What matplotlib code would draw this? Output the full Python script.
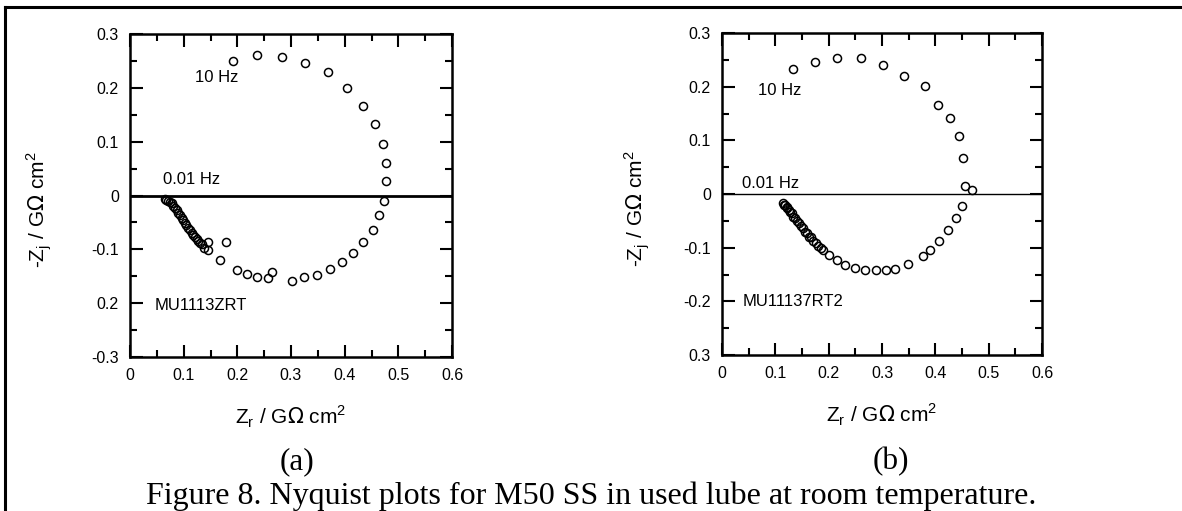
import matplotlib
matplotlib.use("Agg")
import matplotlib.pyplot as plt
from matplotlib.ticker import MultipleLocator, FixedLocator, FixedFormatter
from matplotlib.lines import Line2D

# panel (a): MU1113ZRT
za_re = [0.1925, 0.236, 0.2826, 0.326, 0.3695, 0.4037, 0.4348, 0.4565, 0.4708, 0.477,
         0.477, 0.474, 0.4646, 0.452, 0.4348, 0.416, 0.3944, 0.3727, 0.348, 0.3242,
         0.301, 0.264, 0.2577, 0.237, 0.2174, 0.200, 0.1677, 0.1789, 0.146, 0.146,
         0.1379, 0.1335, 0.1273, 0.121, 0.1149, 0.1087, 0.1025, 0.0963, 0.090, 0.0838,
         0.0776, 0.0714, 0.0652, 0.068, 0.074, 0.080, 0.087, 0.093, 0.099, 0.105,
         0.112, 0.118, 0.124, 0.130]
za_im = [0.2506, 0.261, 0.258, 0.247, 0.229, 0.1994, 0.167, 0.1333, 0.0963, 0.0605,
         0.0265, -0.0093, -0.037, -0.064, -0.0864, -0.107, -0.123, -0.137, -0.148, -0.152,
         -0.1587, -0.143, -0.154, -0.151, -0.146, -0.138, -0.1198, -0.0864, -0.101, -0.0858,
         -0.097, -0.0907, -0.0846, -0.0765, -0.069, -0.0599, -0.0506, -0.0414, -0.032, -0.0228,
         -0.0148, -0.0105, -0.006, -0.009, -0.013, -0.019, -0.027, -0.037, -0.046, -0.055,
         -0.064, -0.073, -0.081, -0.088]

# panel (b): MU11137RT2
zb_re = [0.1337, 0.1744, 0.215, 0.2606, 0.3013, 0.342, 0.3806, 0.4044, 0.4275, 0.445,
         0.4525, 0.4556, 0.468, 0.4494, 0.4388, 0.4244, 0.4075, 0.390, 0.3763, 0.3481,
         0.3244, 0.3075, 0.2888, 0.268, 0.2494, 0.2306, 0.215, 0.2012, 0.190, 0.1806,
         0.1713, 0.1638, 0.1556, 0.1475, 0.140, 0.1337, 0.1275, 0.1213, 0.1163, 0.115,
         0.118, 0.122, 0.126, 0.131, 0.137, 0.144, 0.151, 0.159, 0.167, 0.176, 0.185]
zb_im = [0.2338, 0.2462, 0.2537, 0.2525, 0.2413, 0.220, 0.2012, 0.165, 0.1412, 0.1088,
         0.068, 0.015, 0.0069, -0.0225, -0.0444, -0.068, -0.088, -0.1037, -0.1162, -0.130,
         -0.140, -0.1412, -0.1418, -0.1412, -0.138, -0.132, -0.1225, -0.1144, -0.105, -0.0975,
         -0.088, -0.0792, -0.070, -0.0605, -0.0512, -0.042, -0.034, -0.0262, -0.0212, -0.017,
         -0.020, -0.024, -0.029, -0.036, -0.045, -0.054, -0.063, -0.072, -0.081, -0.091, -0.100]

x_ticks = [0, 0.1, 0.2, 0.3, 0.4, 0.5, 0.6]
x_labels = ["0", "0.1", "0.2", "0.3", "0.4", "0.5", "0.6"]
y_ticks = [-0.3, -0.2, -0.1, 0, 0.1, 0.2, 0.3]
ya_labels = ["-0.3", "0.2", "-0.1", "0", "0.1", "0.2", "0.3"]
yb_labels = ["0.3", "-0.2", "-0.1", "0", "0.1", "0.2", "0.3"]

plt.rcParams["font.family"] = ["Liberation Sans", "DejaVu Sans"]

fig = plt.figure(figsize=(11.82, 5.11), dpi=100)

# outer frame (top and left only)
fig.add_artist(Line2D([5/1182, 1], [1 - 7/511, 1 - 7/511], color="black", lw=2.2,
                      transform=fig.transFigure))
fig.add_artist(Line2D([5/1182, 5/1182], [0, 1 - 7/511], color="black", lw=2.2,
                      transform=fig.transFigure))


def panel(rect, xs, ys, ylabels, zero_lw, notes, ylab_x):
    ax = fig.add_axes(rect)
    ax.axhline(0, color="black", lw=zero_lw, zorder=1)
    ax.plot(xs, ys, "o", ms=5.8, mfc="none", mec="black", mew=1.1, zorder=3)
    ax.set_xlim(0, 0.6)
    ax.set_ylim(-0.3, 0.3)
    ax.xaxis.set_major_locator(FixedLocator(x_ticks))
    ax.xaxis.set_major_formatter(FixedFormatter(x_labels))
    ax.yaxis.set_major_locator(FixedLocator(y_ticks))
    ax.yaxis.set_major_formatter(FixedFormatter(ylabels))
    ax.xaxis.set_minor_locator(MultipleLocator(0.05))
    ax.yaxis.set_minor_locator(MultipleLocator(0.05))
    ax.tick_params(which="both", direction="in", top=True, right=True, width=1.5,
                   labelsize=11.5, pad=8)
    ax.tick_params(which="major", length=9)
    ax.tick_params(which="minor", length=5)
    for s in ax.spines.values():
        s.set_linewidth(1.8)
    ax.set_xlabel(r"Z$_\mathregular{r}$ / G$\Omega$ cm$^\mathregular{2}$", fontsize=15, labelpad=15)
    ax.set_ylabel(r"-Z$_\mathregular{j}$ / G$\Omega$ cm$^\mathregular{2}$", fontsize=15)
    ax.yaxis.set_label_coords(ylab_x, 0.455)
    for x, y, t in notes:
        ax.text(x, y, t, fontsize=12, ha="left", va="center")
    return ax


panel([130/1182, 1 - 357/511, 322/1182, 323/511], za_re, za_im, ya_labels, 2.0,
      [(0.122, 0.22, "10 Hz"), (0.061, 0.03, "0.01 Hz"), (0.045, -0.205, "MU1113ZRT")],
      -0.235)
panel([722/1182, 1 - 355/511, 320/1182, 322/511], zb_re, zb_im, yb_labels, 1.0,
      [(0.0675, 0.193, "10 Hz"), (0.0375, 0.019, "0.01 Hz"), (0.039, -0.2, "MU11137RT2")],
      -0.22)

serif = ["Liberation Serif", "DejaVu Serif"]
fig.text(297/1182, 1 - 469/511, "(a)", family=serif, fontsize=22.5, ha="center", va="baseline")
fig.text(891/1182, 1 - 469/511, "(b)", family=serif, fontsize=22.5, ha="center", va="baseline")
fig.text(591/1182, 1 - 504/511, "Figure 8. Nyquist plots for M50 SS in used lube at room temperature.",
         family=serif, fontsize=23, ha="center", va="baseline")

fig.savefig("out.png", dpi=100)
